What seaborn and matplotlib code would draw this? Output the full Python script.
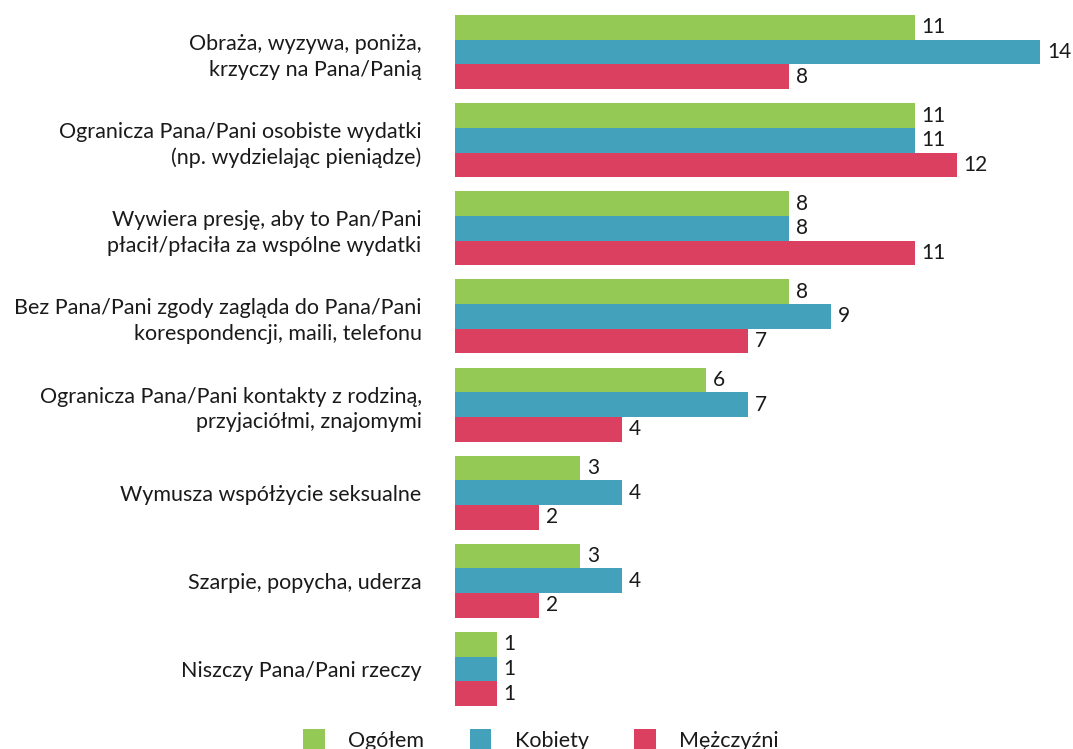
import matplotlib
matplotlib.use("Agg")
import matplotlib.pyplot as plt
import seaborn as sns
import pandas as pd
from matplotlib.patches import Patch

categories = [
    "Obraża, wyzywa, poniża,\nkrzyczy na Pana/Panią",
    "Ogranicza Pana/Pani osobiste wydatki\n(np. wydzielając pieniądze)",
    "Wywiera presję, aby to Pan/Pani\npłacił/płaciła za wspólne wydatki",
    "Bez Pana/Pani zgody zagląda do Pana/Pani\nkorespondencji, maili, telefonu",
    "Ogranicza Pana/Pani kontakty z rodziną,\nprzyjaciółmi, znajomymi",
    "Wymusza współżycie seksualne",
    "Szarpie, popycha, uderza",
    "Niszczy Pana/Pani rzeczy",
]
series = ["Ogółem", "Kobiety", "Mężczyźni"]
ogolem = [11, 11, 8, 8, 6, 3, 3, 1]
kobiety = [14, 11, 8, 9, 7, 4, 4, 1]
mezczyzni = [8, 12, 11, 7, 4, 2, 2, 1]

colors = ["#95C955", "#44A1BC", "#DB4060"]
text_color = "#1a1a1a"

df = pd.DataFrame({
    "kategoria": categories * 3,
    "grupa": [s for s in series for _ in categories],
    "procent": ogolem + kobiety + mezczyzni,
})

sns.set_theme(style="white")
plt.rcParams["font.family"] = ["Lato", "DejaVu Sans"]

fig = plt.figure(figsize=(10.73, 7.49), dpi=100)
W, H = 1073, 749
ax = fig.add_axes([455 / W, 1 - 713 / H, (W - 455) / W, (713 - 8) / H])

sns.barplot(data=df, y="kategoria", x="procent", hue="grupa",
            order=categories, hue_order=series, palette=colors,
            orient="h", width=0.84, saturation=1, ax=ax, legend=False,
            edgecolor="none", linewidth=0)

for container in ax.containers:
    ax.bar_label(container, padding=5, fontsize=15, color=text_color)

ax.set_xlim(0, (W - 455) / 41.8)
ax.set_ylim(7.5, -0.5)
ax.set_xlabel("")
ax.set_ylabel("")
ax.set_xticks([])
ax.tick_params(axis="y", length=0, pad=24)
for lbl in ax.get_yticklabels():
    lbl.set_fontsize(15.5)
    lbl.set_color(text_color)
    lbl.set_horizontalalignment("right")
    lbl.set_multialignment("right")
    lbl.set_linespacing(1.35)
for s in ax.spines.values():
    s.set_visible(False)

handles = [Patch(facecolor=c, edgecolor="none", label=s) for c, s in zip(colors, series)]
fig.legend(handles=handles, loc="center", bbox_to_anchor=(541 / W, 9 / H),
           ncol=3, frameon=False, fontsize=15.5, handlelength=1.0, handleheight=1.0,
           handletextpad=1.1, columnspacing=2.1, borderpad=0, labelcolor=text_color)

fig.savefig("out.png", dpi=100)
